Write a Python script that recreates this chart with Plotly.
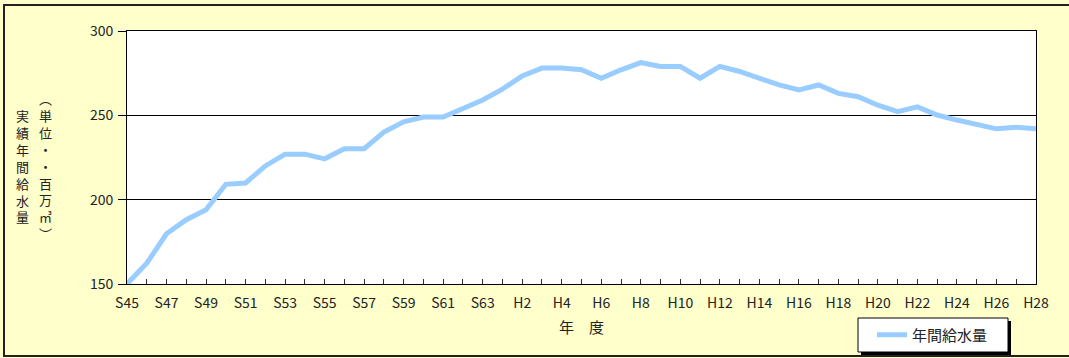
import plotly.graph_objects as go

# ---- data ----
years = [f"S{y}" for y in range(45, 64)] + [f"H{y}" for y in range(1, 29)]
supply = [150, 162.3, 179.8, 188.1, 194, 209.1, 209.9, 220, 227, 227,
          224.2, 230.2, 230.2, 240.1, 246.2, 249, 249, 254, 259.1, 265.5,
          273.4, 278, 278, 277, 272, 277, 281.3, 279, 279, 272,
          279, 276, 272, 268, 265, 268, 263, 261, 256, 252.2,
          255, 250.2, 247.2, 244.8, 242, 243, 242]
tick_labels = [lab if i % 2 == 0 else "" for i, lab in enumerate(years)]
series_name = "年間給水量"
x_title = "年　度"
y_title_col1 = ["実", "績", "年", "間", "給", "水", "量"]
y_title_col2 = ["︵", "単", "位", "・", "・", "百", "万", "㎥", "︶"]

FONT = "Noto Sans CJK JP, Arial, sans-serif"
W, H = 1069, 358
L, R, T, B = 127, 33, 31, 74
PW, PH = W - L - R, H - T - B


def px_x(x):
    return (x - L) / PW


def px_y(y):
    return (H - B - y) / PH


fig = go.Figure()
fig.add_trace(go.Scatter(x=years, y=supply, mode="lines", name=series_name,
                         line=dict(color="#99CCFF", width=5)))

fig.update_layout(
    width=W, height=H,
    margin=dict(l=L, r=R, t=T, b=B, autoexpand=False),
    paper_bgcolor="#FFFFCC",
    plot_bgcolor="#FFFFFF",
    font=dict(family=FONT, size=14, color="#222222"),
    showlegend=True,
    legend=dict(x=px_x(872), y=px_y(335), xanchor="left", yanchor="middle",
                bgcolor="rgba(0,0,0,0)", borderwidth=0,
                font=dict(size=15), itemwidth=30),
)
fig.update_xaxes(
    type="category", range=[0, len(years) - 1],
    tickmode="array", tickvals=years, ticktext=tick_labels,
    ticks="inside", ticklen=5, tickcolor="#333333",
    showline=True, linecolor="#000000", linewidth=1, mirror=True,
    showgrid=False, tickfont=dict(size=14), ticklabelstandoff=6,
    title=dict(text=x_title, standoff=11, font=dict(size=15)),
)
fig.update_yaxes(
    range=[150, 300], dtick=50, tick0=150,
    ticks="outside", ticklen=8, tickcolor="#000000",
    showline=True, linecolor="#000000", linewidth=1, mirror=True,
    showgrid=True, gridcolor="#000000", gridwidth=1,
    zeroline=False, tickfont=dict(size=14), ticklabelstandoff=2,
)

# vertical y-axis title, one character per line
fig.add_annotation(x=px_x(22), y=px_y(166), xref="paper", yref="paper",
                   text="<br>".join(y_title_col1), showarrow=False,
                   font=dict(size=13), xanchor="center", yanchor="middle")
fig.add_annotation(x=px_x(45), y=px_y(166), xref="paper", yref="paper",
                   text="<br>".join(y_title_col2), showarrow=False,
                   font=dict(size=13), xanchor="center", yanchor="middle")

# legend box with shadow
fig.add_shape(type="rect", xref="paper", yref="paper", layer="above",
              x0=px_x(861), x1=px_x(1011), y0=px_y(321), y1=px_y(355),
              fillcolor="#000000", line=dict(width=0))
fig.add_shape(type="rect", xref="paper", yref="paper", layer="above",
              x0=px_x(858), x1=px_x(1008), y0=px_y(318), y1=px_y(352),
              fillcolor="#FFFFFF", line=dict(color="#000000", width=1))
# outer frame
fig.add_shape(type="rect", xref="paper", yref="paper", layer="above",
              x0=px_x(4), x1=px_x(1080), y0=px_y(5), y1=px_y(356),
              line=dict(color="#222222", width=2))

fig.write_html("out.html")
